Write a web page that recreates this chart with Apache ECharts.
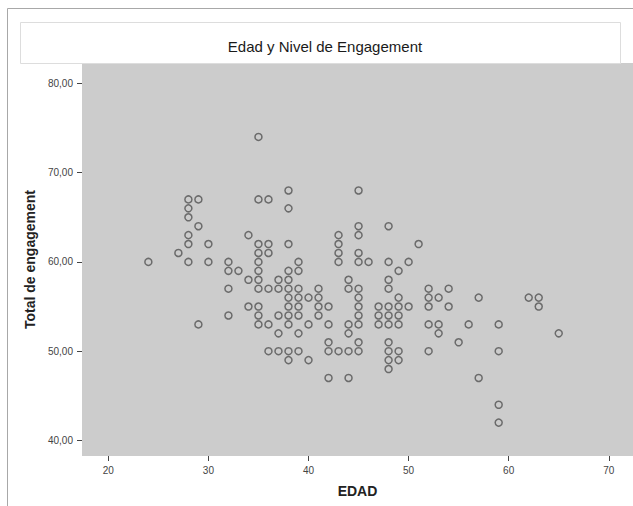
<!DOCTYPE html>
<html>
<head>
<meta charset="utf-8">
<script src="https://cdn.jsdelivr.net/npm/echarts@6/dist/echarts.min.js"></script>
<style>
html,body{margin:0;padding:0;background:#fff;}
#c{width:633px;height:506px;}
</style>
</head>
<body>
<div id="c"></div>
<script>
const chartTitle = 'Edad y Nivel de Engagement';
const xName = 'EDAD';
const yName = 'Total de engagement';
const xTicks = [20, 30, 40, 50, 60, 70];
const yTicks = [40, 50, 60, 70, 80];

const edad = [
  24,27,28,28,28,28,28,28,29,29,29,30,30,
  32,32,32,32,33,
  34,34,34,
  35,35,35,35,35,35,35,35,35,35,35,
  36,36,36,36,36,36,
  37,37,37,37,37,
  38,38,38,38,38,38,38,38,38,38,38,38,
  39,39,39,39,39,39,39,39,
  40,40,40,
  41,41,41,41,
  42,42,42,42,42,
  43,43,43,43,43,
  44,44,44,44,44,44,
  45,45,45,45,45,45,45,45,45,45,45,45,
  46,
  47,47,47,
  48,48,48,48,48,48,48,48,48,48,48,
  49,49,49,49,49,49,49,
  50,50,
  51,
  52,52,52,52,52,
  53,53,53,
  54,54,
  55,
  56,
  57,57,
  59,59,59,59,
  62,63,63,65
];
const engagement = [
  60,61,67,66,65,63,62,60,67,64,53,62,60,
  60,59,57,54,59,
  63,58,55,
  74,67,62,61,60,59,58,57,55,54,53,
  67,62,61,57,53,50,
  58,57,54,52,50,
  68,66,62,59,58,57,56,55,54,53,50,49,
  60,59,57,56,55,54,52,50,
  56,53,49,
  57,56,55,54,
  55,53,51,50,47,
  63,62,61,60,50,
  58,57,53,52,50,47,
  68,64,63,61,60,57,56,55,54,53,51,50,
  60,
  55,54,53,
  64,60,58,57,55,54,53,51,50,49,48,
  59,56,55,54,53,50,49,
  60,55,
  62,
  57,56,55,53,50,
  56,53,52,
  57,55,
  51,
  53,
  56,47,
  53,50,44,42,
  56,56,55,52
];

const points = edad.map((x, i) => [x, engagement[i]]);

const chart = echarts.init(document.getElementById('c'), null, {renderer: 'svg'});
chart.setOption({
  animation: false,
  backgroundColor: '#ffffff',
  graphic: [
    {type: 'line', shape: {x1: 7.5, y1: 8.5, x2: 633, y2: 8.5}, style: {stroke: '#a8a8a8', lineWidth: 1}, z: 0},
    {type: 'line', shape: {x1: 7.5, y1: 8.5, x2: 7.5, y2: 506}, style: {stroke: '#a8a8a8', lineWidth: 1}, z: 0},
    {type: 'rect', shape: {x: 20.5, y: 22.5, width: 600, height: 41}, style: {fill: '#ffffff', stroke: '#dddddd', lineWidth: 1}, z: 0},
    {type: 'text', x: 325, y: 46, style: {text: chartTitle, font: '15px "Liberation Sans", Arial, sans-serif', fill: '#1a1a1a', align: 'center', verticalAlign: 'middle'}, z: 5}
  ],
  grid: {left: 82, right: 0, top: 63, bottom: 50, show: true, backgroundColor: '#cccccc', borderWidth: 0},
  xAxis: {
    type: 'value',
    min: 17.37, max: 72.42,
    name: xName,
    nameLocation: 'middle',
    nameGap: 28,
    nameTextStyle: {fontFamily: '"Liberation Sans", Arial, sans-serif', fontWeight: 'bold', fontSize: 14, color: '#222'},
    axisLine: {show: false},
    splitLine: {show: false},
    axisTick: {show: true, length: 5, customValues: xTicks, lineStyle: {color: '#444', width: 1}},
    axisLabel: {customValues: xTicks, fontSize: 10, color: '#444', margin: 9, fontFamily: '"Liberation Sans", Arial, sans-serif'}
  },
  yAxis: {
    type: 'value',
    min: 38.26, max: 82.28,
    name: yName,
    nameLocation: 'middle',
    nameGap: 44,
    nameTextStyle: {fontFamily: '"Liberation Sans", Arial, sans-serif', fontWeight: 'bold', fontSize: 14, color: '#222'},
    axisLine: {show: false},
    splitLine: {show: false},
    axisTick: {show: true, length: 5, customValues: yTicks, lineStyle: {color: '#444', width: 1}},
    axisLabel: {customValues: yTicks, fontSize: 10, color: '#444', margin: 9, fontFamily: '"Liberation Sans", Arial, sans-serif',
      formatter: v => v.toFixed(2).replace('.', ',')}
  },
  series: [{
    type: 'scatter',
    data: points,
    symbol: 'circle',
    symbolSize: 7,
    itemStyle: {color: 'rgba(0,0,0,0)', borderColor: 'rgba(60,60,60,0.85)', borderWidth: 1.5},
    emphasis: {disabled: true}
  }]
});
</script>
</body>
</html>
